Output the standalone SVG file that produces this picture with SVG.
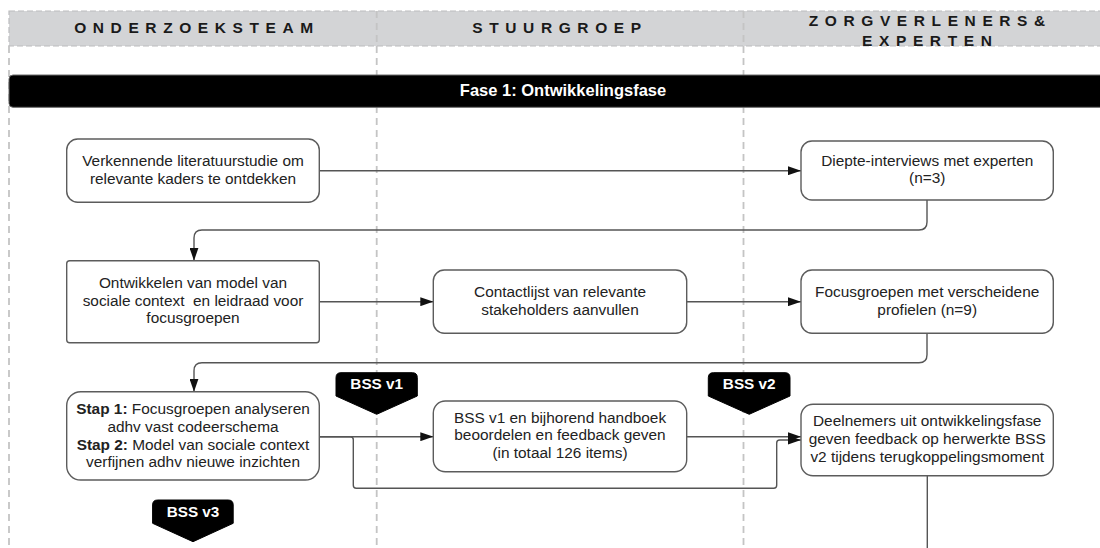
<svg xmlns="http://www.w3.org/2000/svg" width="1100" height="548" viewBox="0 0 1100 548">
  <defs>
    <marker id="arrow" markerUnits="userSpaceOnUse" markerWidth="13" markerHeight="9" refX="13" refY="4.5" orient="auto">
      <path d="M0,0 L13,4.5 L0,9 Z" fill="#111"/>
    </marker>
    <style>
      .lane { fill: none; stroke: #c4c4c4; stroke-width: 1.8; stroke-dasharray: 7 5; }
      .hdr { fill: #d3d4d6; stroke: #bcbcbe; stroke-width: 1.2; stroke-dasharray: 6 3; }
      .hdrtxt { font-family: "Liberation Sans", Arial, sans-serif; font-weight: bold; font-size: 15.5px; letter-spacing: 6.6px; fill: #1a1a1a; text-anchor: middle; }
      .box { fill: #fff; stroke: #5c5c5c; stroke-width: 1.4; }
      .txt { font-family: "Liberation Sans", Arial, sans-serif; font-size: 15.4px; fill: #222; text-anchor: middle; }
      .b { font-weight: bold; }
      .conn { fill: none; stroke: #555; stroke-width: 1.4; }
      .tag { fill: #000; stroke: #000; stroke-width: 1; stroke-linejoin: round; }
      .tagtxt { font-family: "Liberation Sans", Arial, sans-serif; font-weight: bold; font-size: 15.3px; fill: #fff; text-anchor: middle; }
    </style>
  </defs>

  <rect width="1100" height="548" fill="#fff"/>

  <!-- swimlane header -->
  <g id="lanes">
    <rect class="hdr" x="9" y="11" width="1110" height="35"/>
    <line class="lane" x1="376.7" y1="11" x2="376.7" y2="46" stroke="#c8c8ca"/>
    <line class="lane" x1="743.5" y1="11" x2="743.5" y2="46" stroke="#c8c8ca"/>
    <line class="lane" x1="9" y1="46" x2="9" y2="548"/>
    <line class="lane" x1="376.7" y1="46" x2="376.7" y2="548"/>
    <line class="lane" x1="743.5" y1="46" x2="743.5" y2="548"/>
    <text class="hdrtxt" x="197" y="32.7">ONDERZOEKSTEAM</text>
    <text class="hdrtxt" x="560" y="32.7">STUURGROEP</text>
    <text class="hdrtxt" x="930.3" y="26">ZORGVERLENERS&amp;</text>
    <text class="hdrtxt" x="930.3" y="46">EXPERTEN</text>
  </g>

  <!-- phase bar -->
  <g id="phase">
    <rect x="9" y="75" width="1110" height="32.3" rx="4" fill="#000" stroke="#6a6a6a" stroke-width="1"/>
    <text x="563" y="95.5" font-family="Liberation Sans, Arial, sans-serif" font-weight="bold" font-size="16.5px" fill="#fff" text-anchor="middle">Fase 1: Ontwikkelingsfase</text>
  </g>

  <!-- connectors -->
  <g id="connectors">
    <path class="conn" d="M319.3,170.7 H801" marker-end="url(#arrow)"/>
    <path class="conn" d="M927,200 V222 Q927,230 919,230 H202 Q194,230 194,238 V260.7" marker-end="url(#arrow)"/>
    <path class="conn" d="M319.3,301.7 H433.3" marker-end="url(#arrow)"/>
    <path class="conn" d="M686.7,301.7 H801" marker-end="url(#arrow)"/>
    <path class="conn" d="M927,333.3 V354.7 Q927,362.7 919,362.7 H202 Q194,362.7 194,370.7 V391.7" marker-end="url(#arrow)"/>
    <path class="conn" d="M319.3,436.7 H433.3" marker-end="url(#arrow)"/>
    <path class="conn" d="M319.3,436.7 H350.3 Q353.3,436.7 353.3,439.7 V485.3 Q353.3,488.3 356.3,488.3 H773.7 Q776.7,488.3 776.7,485.3 V443 Q776.7,440 779.7,440 H801" marker-end="url(#arrow)"/>
    <path class="conn" d="M686.7,436.7 H801" marker-end="url(#arrow)"/>
    <path class="conn" d="M927.3,475.7 V548"/>
  </g>

  <!-- process steps -->
  <g id="literatuurstudie">
    <rect class="box" x="66.7" y="139" width="252.6" height="63.3" rx="11"/>
    <text class="txt" x="193" y="165.9">Verkennende literatuurstudie om</text>
    <text class="txt" x="193" y="183.6">relevante kaders te ontdekken</text>
  </g>

  <g id="diepte-interviews">
    <rect class="box" x="801" y="141" width="252.3" height="59" rx="11"/>
    <text class="txt" x="927.2" y="165.6">Diepte-interviews met experten</text>
    <text class="txt" x="927.2" y="183.3">(n=3)</text>
  </g>

  <g id="model-ontwikkelen">
    <rect class="box" x="66.7" y="260.7" width="252.6" height="82" rx="3"/>
    <text class="txt" x="193" y="288">Ontwikkelen van model van</text>
    <text class="txt" x="193" y="305.7" xml:space="preserve">sociale context  en leidraad voor</text>
    <text class="txt" x="193" y="323.4">focusgroepen</text>
  </g>

  <g id="contactlijst">
    <rect class="box" x="433.3" y="270" width="253.4" height="63.3" rx="11"/>
    <text class="txt" x="560" y="296.8">Contactlijst van relevante</text>
    <text class="txt" x="560" y="314.5">stakeholders aanvullen</text>
  </g>

  <g id="focusgroepen">
    <rect class="box" x="801" y="270" width="252.3" height="63.3" rx="11"/>
    <text class="txt" x="927.2" y="296.8">Focusgroepen met verscheidene</text>
    <text class="txt" x="927.2" y="314.5">profielen (n=9)</text>
  </g>

  <g id="analyse">
    <rect class="box" x="66.7" y="391.7" width="252.6" height="88.3" rx="14"/>
    <text class="txt" x="193" y="414.3"><tspan class="b">Stap 1:</tspan> Focusgroepen analyseren</text>
    <text class="txt" x="193" y="432">adhv vast codeerschema</text>
    <text class="txt" x="193" y="449.7"><tspan class="b">Stap 2:</tspan> Model van sociale context</text>
    <text class="txt" x="193" y="467.4">verfijnen adhv nieuwe inzichten</text>
  </g>

  <g id="bss-v1-beoordelen">
    <rect class="box" x="433.3" y="401" width="253.4" height="70.7" rx="12"/>
    <text class="txt" x="560" y="422.6">BSS v1 en bijhorend handboek</text>
    <text class="txt" x="560" y="440.3">beoordelen en feedback geven</text>
    <text class="txt" x="560" y="458">(in totaal 126 items)</text>
  </g>

  <g id="terugkoppeling">
    <rect class="box" x="801" y="404.3" width="252.3" height="71.4" rx="12"/>
    <text class="txt" x="927.2" y="426.3">Deelnemers uit ontwikkelingsfase</text>
    <text class="txt" x="927.2" y="444">geven feedback op herwerkte BSS</text>
    <text class="txt" x="927.2" y="461.7">v2 tijdens terugkoppelingsmoment</text>
  </g>

  <!-- version tags -->
  <g id="tag-bss-v1">
    <path class="tag" d="M341,372.7 H412.3 Q417.3,372.7 417.3,377.7 V396 L376.7,414.3 L336,396 V377.7 Q336,372.7 341,372.7 Z"/>
    <text class="tagtxt" x="376.7" y="389.3">BSS v1</text>
  </g>
  <g id="tag-bss-v2">
    <path class="tag" d="M713.3,372.7 H785 Q790,372.7 790,377.7 V396 L749.2,414.3 L708.3,396 V377.7 Q708.3,372.7 713.3,372.7 Z"/>
    <text class="tagtxt" x="749.2" y="389.3">BSS v2</text>
  </g>
  <g id="tag-bss-v3">
    <path class="tag" d="M157.6,500 H228.2 Q233.2,500 233.2,505 V523.3 L193,541.7 L152.6,523.3 V505 Q152.6,500 157.6,500 Z"/>
    <text class="tagtxt" x="193" y="516.6">BSS v3</text>
  </g>
</svg>
